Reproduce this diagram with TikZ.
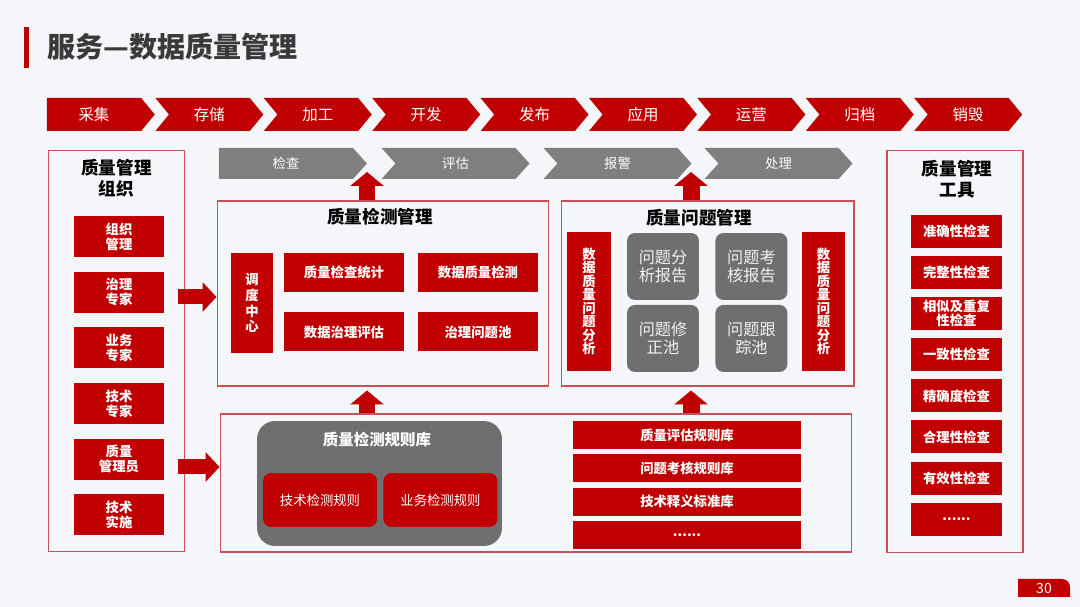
\documentclass[tikz,border=0pt]{standalone}
\usepackage{fontspec}
\setmainfont{Noto Sans CJK SC}
\usetikzlibrary{arrows.meta, positioning, shapes.symbols}
\definecolor{qred}{HTML}{C00000}
\definecolor{qgray}{HTML}{7F7F7F}
\definecolor{qdark}{HTML}{6F6F6F}
\definecolor{qline}{HTML}{C8505A}
\definecolor{qbg}{HTML}{F5F6FA}
\definecolor{qtitle}{HTML}{3A3A3A}
\tikzstyle{chev} = [signal, signal to=east, signal from=west, 
signal pointer angle=101, 
minimum width=2.16cm, 
minimum height=0.66cm, 
inner sep=0pt, 
fill=qred, text=white, 
font=\fontsize{8.8}{10}\selectfont]
\tikzstyle{graychev} = [chev, signal pointer angle=96, 
minimum width=2.96cm, 
minimum height=0.62cm, 
fill=qgray, 
font=\fontsize{7.6}{9}\selectfont]
\tikzstyle{panel} = [rectangle, draw=qline, line width=0.6pt]
\tikzstyle{heading} = [align=center, text=black, font=\fontsize{10}{12}\selectfont\bfseries]
\tikzstyle{redbox} = [rectangle, inner sep=0pt, align=center, 
fill=qred, text=white, 
font=\fontsize{7.6}{8.6}\selectfont\bfseries]
\tikzstyle{orgbox} = [redbox, minimum width=1.8cm, minimum height=0.82cm]
\tikzstyle{toolbox} = [redbox, minimum width=1.82cm, minimum height=0.66cm, font=\fontsize{7.6}{8}\selectfont\bfseries]
\tikzstyle{mgbox} = [redbox, minimum width=2.4cm, minimum height=0.78cm]
\tikzstyle{vbox} = [redbox, minimum width=0.88cm, minimum height=2.78cm, font=\fontsize{7.6}{7.7}\selectfont\bfseries]
\tikzstyle{libbar} = [redbox, minimum width=4.56cm, minimum height=0.56cm]
\tikzstyle{graysq} = [rectangle, rounded corners=0.16cm, 
minimum width=1.44cm, 
minimum height=1.34cm, 
align=center, 
fill=qdark, text=white!90!gray, 
font=\fontsize{9.2}{10.5}\selectfont]
\tikzstyle{rulebox} = [rectangle, rounded corners=0.16cm, 
minimum width=2.28cm, 
minimum height=1.08cm, 
fill=qred, text=white, 
font=\fontsize{7.6}{9}\selectfont]
\tikzstyle{uparrow} = [-{Triangle[width=0.66cm, length=0.28cm]}, qred, line width=0.34cm]
\tikzstyle{rightarrow} = [-{Triangle[width=0.58cm, length=0.28cm]}, qred, line width=0.3cm]

\begin{document}
\begin{tikzpicture}[x=0.02cm, y=-0.02cm]
				
				% Canvas
				\fill[qbg] (0,0) rectangle (1080,607);
				\useasboundingbox (0,0) rectangle (1080,607);
				
				\fill[qred] (24,27) rectangle (29,68);
				\node[anchor=west, inner sep=0pt, text=qtitle, font=\fontsize{16}{18}\selectfont\bfseries] (title) at (47,47) {服务—数据质量管理};
				
				% Life cycle
				\node[chev, signal from=nowhere] (caiji) at (94,114.5) {采集};
				\node[chev] (cunchu) at (209.4,114.5) {存储};
				\node[chev] (jiagong) at (317.8,114.5) {加工};
				\node[chev] (kaifa) at (426.2,114.5) {开发};
				\node[chev] (fabu) at (534.6,114.5) {发布};
				\node[chev] (yingyong) at (643,114.5) {应用};
				\node[chev] (yunying) at (751.4,114.5) {运营};
				\node[chev] (guidang) at (859.8,114.5) {归档};
				\node[chev] (xiaohui) at (968.2,114.5) {销毁};
				
				\node[graychev, signal from=nowhere] (jiancha) at (286,163.5) {检查};
				\node[graychev] (pinggu) at (455.5,163.5) {评估};
				\node[graychev] (baojing) at (617.5,163.5) {报警};
				\node[graychev] (chuli) at (778.5,163.5) {处理};
				
				% Organisation
				\node[panel, minimum width=2.72cm, minimum height=8.04cm] (org) at (116.5,351) {};
				\node[heading] (orgtitle) at (116.5,178) {质量管理\\组织};
				\node[orgbox] (zzgl) at (119,236.5) {组织\\管理};
				\node[orgbox] (zlzj) at ([yshift=-1.114cm]zzgl.center) {治理\\专家};
				\node[orgbox] (ywzj) at ([yshift=-1.114cm]zlzj.center) {业务\\专家};
				\node[orgbox] (jszj) at ([yshift=-1.114cm]ywzj.center) {技术\\专家};
				\node[orgbox] (zlgly) at ([yshift=-1.114cm]jszj.center) {质量\\管理员};
				\node[orgbox] (jsss) at ([yshift=-1.114cm]zlgly.center) {技术\\实施};
				
				% Detection
				\node[panel, minimum width=6.64cm, minimum height=3.7cm] (qdm) at (383,293.5) {};
				\node[heading] (qdmtitle) at (380,217) {质量检测管理};
				\node[redbox, minimum width=0.84cm, minimum height=2cm, font=\fontsize{7.6}{9}\selectfont\bfseries] (ddzx) at (252,303) {调\\度\\中\\心};
				\node[mgbox] (jctj) at (344,272.5) {质量检查统计};
				\node[mgbox] (zljc) at ([xshift=2.68cm]jctj.center) {数据质量检测};
				\node[mgbox] (zlpg) at ([yshift=-1.19cm]jctj.center) {数据治理评估};
				\node[mgbox] (wtc) at ([xshift=2.68cm]zlpg.center) {治理问题池};
				
				% Problems
				\node[panel, minimum width=5.86cm, minimum height=3.7cm] (qpm) at (707.5,293.5) {};
				\node[heading] (qpmtitle) at (699,218) {质量问题管理};
				\node[vbox] (fxleft) at (589,301.5) {数\\据\\质\\量\\问\\题\\分\\析};
				\node[vbox] (fxright) at (823.5,301.5) {数\\据\\质\\量\\问\\题\\分\\析};
				\node[graysq] (fxbg) at (663,266.5) {问题分\\析报告};
				\node[graysq] (khbg) at ([xshift=1.77cm]fxbg.center) {问题考\\核报告};
				\node[graysq] (xzc) at ([yshift=-1.44cm]fxbg.center) {问题修\\正池};
				\node[graysq] (gzc) at ([xshift=1.77cm]xzc.center) {问题跟\\踪池};
				
				% Rule libraries
				\node[panel, minimum width=12.64cm, minimum height=2.76cm] (rules) at (536,483) {};
				\node[rectangle, rounded corners=0.36cm, fill=qdark, minimum width=4.9cm, minimum height=2.5cm] (jcgzk) at (379.5,483.5) {};
				\node[text=white, font=\fontsize{8.8}{10}\selectfont\bfseries] (jcgzktitle) at (377,440) {质量检测规则库};
				\node[rulebox] (jsgz) at (320,500) {技术检测规则};
				\node[rulebox] (ywgz) at ([xshift=2.41cm]jsgz.center) {业务检测规则};
				\node[libbar] (pggzk) at (687,435) {质量评估规则库};
				\node[libbar] (khgzk) at ([yshift=-0.666cm]pggzk.center) {问题考核规则库};
				\node[libbar] (syk) at ([yshift=-0.666cm]khgzk.center) {技术释义标准库};
				\node[libbar] (more) at ([yshift=-0.666cm]syk.center) {......};
				
				% Tools
				\node[panel, minimum width=2.72cm, minimum height=8.06cm] (tools) at (955,351.5) {};
				\node[heading] (toolstitle) at (957,179) {质量管理\\工具};
				\node[toolbox] (zqx) at (956.5,231.5) {准确性检查};
				\node[toolbox] (wzx) at ([yshift=-0.822cm]zqx.center) {完整性检查};
				\node[toolbox] (xsx) at ([yshift=-0.822cm]wzx.center) {相似及重复\\性检查};
				\node[toolbox] (yzx) at ([yshift=-0.822cm]xsx.center) {一致性检查};
				\node[toolbox] (jqd) at ([yshift=-0.822cm]yzx.center) {精确度检查};
				\node[toolbox] (hlx) at ([yshift=-0.822cm]jqd.center) {合理性检查};
				\node[toolbox] (yxx) at ([yshift=-0.822cm]hlx.center) {有效性检查};
				\node[toolbox] (toolsmore) at ([yshift=-0.822cm]yxx.center) {......};
				
				% Edges
				\coordinate (gap1) at (367,172);
				\coordinate (gap2) at (691,172);
				\draw[uparrow] (qdm.north -| gap1) -- (gap1);
				\draw[uparrow] (qpm.north -| gap2) -- (gap2);
				\draw[uparrow] (rules.north -| gap1) -- ([yshift=-0.08cm]qdm.south -| gap1);
				\draw[uparrow] (rules.north -| gap2) -- ([yshift=-0.08cm]qpm.south -| gap2);
				\draw[rightarrow] ([xshift=-0.14cm, yshift=-0.07cm]org.east |- qdm.west) -- ([yshift=-0.07cm]qdm.west);
				\draw[rightarrow] ([xshift=-0.14cm, yshift=0.32cm]org.east |- rules.west) -- ([yshift=0.32cm]rules.west);
				
				% Page number
				\fill[qred] (1018,597) -- (1018,579) -- (1062,579) arc[start angle=90, end angle=0, radius=0.16cm] -- (1070,597) -- cycle;
				\node[text=white, font=\fontsize{8}{9}\selectfont] (pagenum) at (1044,588) {30};
				
			\end{tikzpicture}
\end{document}
